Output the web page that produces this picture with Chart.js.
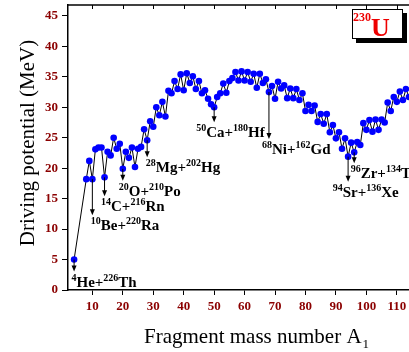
<!DOCTYPE html>
<html>
<head>
<meta charset="utf-8">
<script src="https://cdn.jsdelivr.net/npm/chart.js@4.4.1/dist/chart.umd.min.js"></script>
<style>
  html, body { margin: 0; padding: 0; background: #fff; overflow: hidden; }
  #wrap { width: 409px; height: 352px; }
</style>
</head>
<body>
<div id="wrap"><canvas id="dpChart" width="409" height="352"></canvas></div>
<script>
// fragment mass number A1 and driving potential (MeV) for 230U
const massA = [4, 8, 9, 10, 11, 12, 13, 14, 15, 16, 17, 18, 19, 20, 21, 22, 23, 24, 25, 26, 27, 28, 29, 30,
  31, 32, 33, 34, 35, 36, 37, 38, 39, 40, 41, 42, 43, 44, 45, 46, 47, 48, 49, 50, 51, 52, 53, 54, 55, 56,
  57, 58, 59, 60, 61, 62, 63, 64, 65, 66, 67, 68, 69, 70, 71, 72, 73, 74, 75, 76, 77, 78, 79, 80, 81, 82,
  83, 84, 85, 86, 87, 88, 89, 90, 91, 92, 93, 94, 95, 96, 97, 98, 99, 100, 101, 102, 103, 104, 105, 106,
  107, 108, 109, 110, 111, 112, 113, 114];
const drivingV = [5.0, 18.2, 21.2, 18.2, 23.1, 23.4, 23.4, 18.5, 22.7, 22.1, 25.0, 23.2, 24.0, 19.9, 22.7, 21.7,
  23.4, 20.2, 23.2, 23.5, 26.4, 24.6, 27.7, 26.8, 30.0, 28.7, 30.9, 28.5, 32.7, 32.3, 34.3, 33.0, 35.4, 32.8,
  35.6, 34.0, 35.1, 33.0, 34.3, 32.3, 32.8, 31.4, 30.5, 30.0, 31.7, 32.3, 33.9, 32.4, 34.3, 34.8, 35.8, 34.4,
  35.9, 34.4, 35.8, 34.2, 35.5, 33.2, 35.5, 34.0, 34.6, 32.5, 33.5, 31.4, 34.2, 33.1, 33.6, 31.5, 33.1, 31.5,
  33.0, 31.2, 32.3, 29.4, 30.4, 29.4, 30.3, 27.6, 28.9, 27.3, 28.9, 25.9, 27.1, 24.9, 25.9, 23.2, 24.9, 21.9,
  24.2, 22.6, 24.3, 23.8, 27.4, 26.3, 27.9, 26.0, 28.0, 26.3, 28.0, 27.5, 30.8, 29.4, 31.7, 30.9, 32.6, 31.2,
  33.0, 31.7];

const xTicks = [10, 20, 30, 40, 50, 60, 70, 80, 90, 100, 110];
const yTicks = [0, 5, 10, 15, 20, 25, 30, 35, 40, 45];

// marked splittings
const noteMass = [4, 10, 14, 20, 28, 50, 68, 94, 96];
const noteLightSym = ['He', 'Be', 'C', 'O', 'Mg', 'Ca', 'Ni', 'Sr', 'Zr'];
const noteHeavyMass = ['226', '220', '216', '210', '202', '180', '162', '136', '134'];
const noteHeavySym = ['Th', 'Ra', 'Rn', 'Po', 'Hg', 'Hf', 'Gd', 'Xe', 'Te'];

const parentMass = '230';
const parentSym = 'U';

const tickRed = '#8b0000';
const serif = '"Liberation Serif", "Times New Roman", serif';

// layout of arrows / labels (px)
const noteDrop = [12, 36, 19, 12, 17, 15, 47, 25, 11];
const noteDx = [-2.6, -1.6, -3.5, -4, -1.4, -18, -7, -15.4, -3.5];

const decor = {
  id: 'decor',
  afterDraw(chart) {
    const {ctx, chartArea: ca, scales: {x, y}} = chart;
    ctx.save();

    // top frame + inward ticks
    ctx.strokeStyle = '#000';
    ctx.lineWidth = 1.5;
    ctx.beginPath();
    ctx.moveTo(ca.left, ca.top);
    ctx.lineTo(chart.width, ca.top);
    ctx.stroke();
    ctx.lineWidth = 1;
    ctx.beginPath();
    xTicks.forEach(v => {
      const px = Math.round(x.getPixelForValue(v)) + 0.5;
      ctx.moveTo(px, ca.top);
      ctx.lineTo(px, ca.top + 4);
    });
    ctx.stroke();

    // arrows and labels
    noteMass.forEach((m, i) => {
      const idx = massA.indexOf(m);
      const px = x.getPixelForValue(m);
      const py = y.getPixelForValue(drivingV[idx]);
      const end = py + noteDrop[i];
      ctx.strokeStyle = '#000';
      ctx.fillStyle = '#000';
      ctx.lineWidth = 1;
      ctx.beginPath();
      ctx.moveTo(px, py);
      ctx.lineTo(px, end - 4);
      ctx.stroke();
      ctx.beginPath();
      ctx.moveTo(px - 2.5, end - 6);
      ctx.lineTo(px + 2.5, end - 6);
      ctx.lineTo(px, end);
      ctx.closePath();
      ctx.fill();

      const base = end + 15;
      let tx = px + noteDx[i];
      ctx.textBaseline = 'alphabetic';
      ctx.textAlign = 'left';
      const parts = [[String(m), true], [noteLightSym[i] + '+', false], [noteHeavyMass[i], true], [noteHeavySym[i], false]];
      parts.forEach(([t, sup]) => {
        ctx.font = sup ? 'bold 10px ' + serif : 'bold 15px ' + serif;
        ctx.fillText(t, tx, sup ? base - 6 : base);
        tx += ctx.measureText(t).width;
      });
    });

    // axis titles
    ctx.fillStyle = '#000';
    ctx.font = '21px ' + serif;
    ctx.textAlign = 'center';
    ctx.save();
    ctx.translate(34, 143);
    ctx.rotate(-Math.PI / 2);
    ctx.fillText('Driving potential (MeV)', 0, 0);
    ctx.restore();
    ctx.textAlign = 'left';
    const xt = 'Fragment mass number A';
    ctx.fillText(xt, 144, 343);
    const w = ctx.measureText(xt).width;
    ctx.font = '13px ' + serif;
    ctx.fillText('1', 144 + w + 1, 348);

    // parent nucleus box
    ctx.fillStyle = '#000';
    ctx.fillRect(356, 13, 51, 30);
    ctx.fillStyle = '#fff';
    ctx.fillRect(352, 9, 51, 30);
    ctx.strokeStyle = '#000';
    ctx.lineWidth = 1;
    ctx.strokeRect(352.5, 9.5, 50, 29);
    ctx.fillStyle = '#ee0000';
    ctx.font = 'bold 12px ' + serif;
    ctx.fillText(parentMass, 353, 21);
    const pw = ctx.measureText(parentMass).width;
    ctx.font = 'bold 26px ' + serif;
    ctx.fillText(parentSym, 353 + pw, 36);

    ctx.restore();
  }
};

new Chart(document.getElementById('dpChart').getContext('2d'), {
  type: 'line',
  data: {
    datasets: [{
      data: massA.map((a, i) => ({x: a, y: drivingV[i]})),
      borderColor: '#000',
      borderWidth: 1,
      tension: 0,
      pointRadius: 3.3,
      pointBackgroundColor: '#0000ff',
      pointBorderColor: '#0000ff',
      pointBorderWidth: 0,
      clip: false
    }]
  },
  options: {
    responsive: false,
    animation: false,
    devicePixelRatio: 1,
    layout: { autoPadding: false, padding: { top: 5, right: 0, left: 0, bottom: 0 } },
    plugins: { legend: { display: false }, tooltip: { enabled: false } },
    scales: {
      x: {
        type: 'linear',
        min: 2,
        max: 114,
        afterBuildTicks: s => { s.ticks = xTicks.map(v => ({value: v})); },
        afterFit: s => { s.height = 62; s.paddingLeft = 0; s.paddingRight = 0; },
        border: { color: '#000', width: 1.5 },
        grid: { drawOnChartArea: false, drawTicks: true, tickLength: 5, tickColor: '#000', tickWidth: 1 },
        ticks: { color: tickRed, font: { family: serif, size: 13, weight: 'bold' }, padding: 4, maxRotation: 0, autoSkip: false }
      },
      y: {
        min: 0,
        max: 46.8,
        afterBuildTicks: s => { s.ticks = yTicks.map(v => ({value: v})); },
        afterFit: s => { s.width = 68; s.paddingTop = 0; s.paddingBottom = 0; },
        border: { color: '#000', width: 1.5 },
        grid: { drawOnChartArea: false, drawTicks: true, tickLength: 6, tickColor: '#000', tickWidth: 1 },
        ticks: { color: tickRed, font: { family: serif, size: 13, weight: 'bold' }, padding: 4, autoSkip: false }
      }
    }
  },
  plugins: [decor]
});
</script>
</body>
</html>
